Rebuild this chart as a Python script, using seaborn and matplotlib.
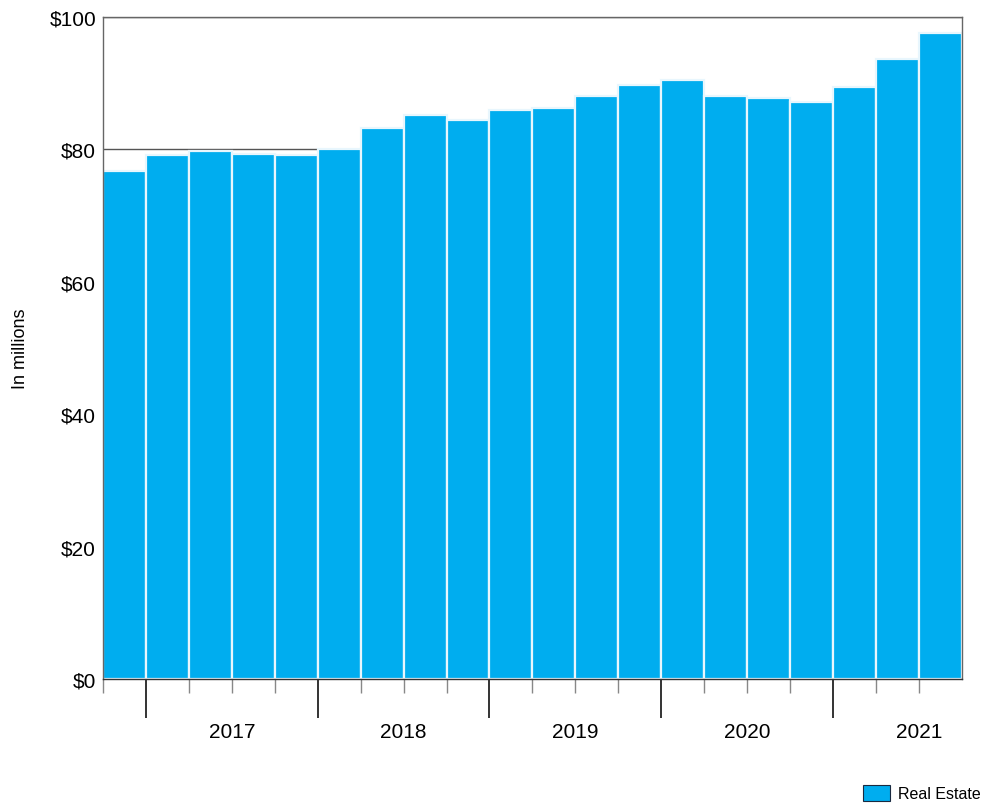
import matplotlib
matplotlib.use("Agg")
import matplotlib.pyplot as plt
import matplotlib.patches as mpatches
import seaborn as sns
import pandas as pd
import numpy as np

quarters = ["Q4 2016",
            "Q1 2017", "Q2 2017", "Q3 2017", "Q4 2017",
            "Q1 2018", "Q2 2018", "Q3 2018", "Q4 2018",
            "Q1 2019", "Q2 2019", "Q3 2019", "Q4 2019",
            "Q1 2020", "Q2 2020", "Q3 2020", "Q4 2020",
            "Q1 2021", "Q2 2021", "Q3 2021"]
values = [76.7, 79.2, 79.7, 79.3, 79.2,
          80.0, 83.2, 85.2, 84.4,
          85.9, 86.3, 88.1, 89.7,
          90.5, 88.0, 87.8, 87.1,
          89.4, 93.6, 97.5]
years = ["2017", "2018", "2019", "2020", "2021"]
yticks = [0, 20, 40, 60, 80, 100]
series_name = "Real Estate"
bar_color = "#00ADEF"

df = pd.DataFrame({"quarter": quarters, "value": values})

sns.set_theme(style="white")
font_list = ["Liberation Sans Narrow", "Liberation Sans", "DejaVu Sans"]
plt.rcParams["font.family"] = font_list
plt.rcParams["text.color"] = "black"
plt.rcParams["xtick.color"] = "black"
plt.rcParams["ytick.color"] = "black"
plt.rcParams["axes.labelcolor"] = "black"

fig = plt.figure(figsize=(9.81, 8.12), dpi=100)
ax = fig.add_axes([0.105, 0.1626, 0.8755, 0.8154])

sns.barplot(data=df, x="quarter", y="value", color=bar_color, width=1.0,
            saturation=1, edgecolor="#e8f6fd", linewidth=1.6, ax=ax, zorder=2)

n = len(quarters)
ax.set_xlim(-0.5, n - 0.5)
ax.set_ylim(0, 100)

# grid
ax.set_yticks(yticks)
ax.set_yticklabels([f"${v}" for v in yticks], fontsize=15)
for v in yticks:
    ax.axhline(v, color="#555555", lw=1.0, zorder=1)
ax.tick_params(axis="y", length=0, pad=5)

# x ticks: year labels centered on years
ax.xaxis.remove_overlapping_locs = False
year_start_idx = [quarters.index(f"Q1 {y}") for y in years]
year_centers = [s - 0.5 + 2.0 for s in year_start_idx]
ax.set_xticks(year_centers)
ax.set_xticklabels(years, fontsize=15)
ax.tick_params(axis="x", which="major", length=0, pad=31)

boundaries = [i - 0.5 for i in range(n)]
year_bounds = [s - 0.5 for s in year_start_idx]
minor_b = [b for b in boundaries if b not in year_bounds]
ax.set_xticks(minor_b, minor=True)
ax.tick_params(axis="x", which="minor", length=10, width=1, color="#888888", bottom=True)

sec = ax.secondary_xaxis("bottom")
sec.set_xticks(year_bounds)
sec.set_xticklabels([""] * len(year_bounds))
sec.tick_params(axis="x", length=28, width=1.2, color="#111111")
for s in sec.spines.values():
    s.set_visible(False)

ax.set_xlabel("")
ax.set_ylabel("In millions", fontsize=13)
ax.yaxis.set_label_coords(-0.086, 0.5)

for side, sp in ax.spines.items():
    sp.set_visible(True)
    sp.set_color("#666666")
    sp.set_linewidth(1.0)
ax.spines["bottom"].set_color("#333333")

handle = mpatches.Patch(facecolor=bar_color, edgecolor="#1a2a40", linewidth=0.8, label=series_name)
fig.legend(handles=[handle], loc="lower right", bbox_to_anchor=(1.014, -0.006), frameon=False,
           fontsize=11.5, handlelength=1.7, handleheight=1.1, handletextpad=0.45)

fig.savefig("out.png", dpi=100)
